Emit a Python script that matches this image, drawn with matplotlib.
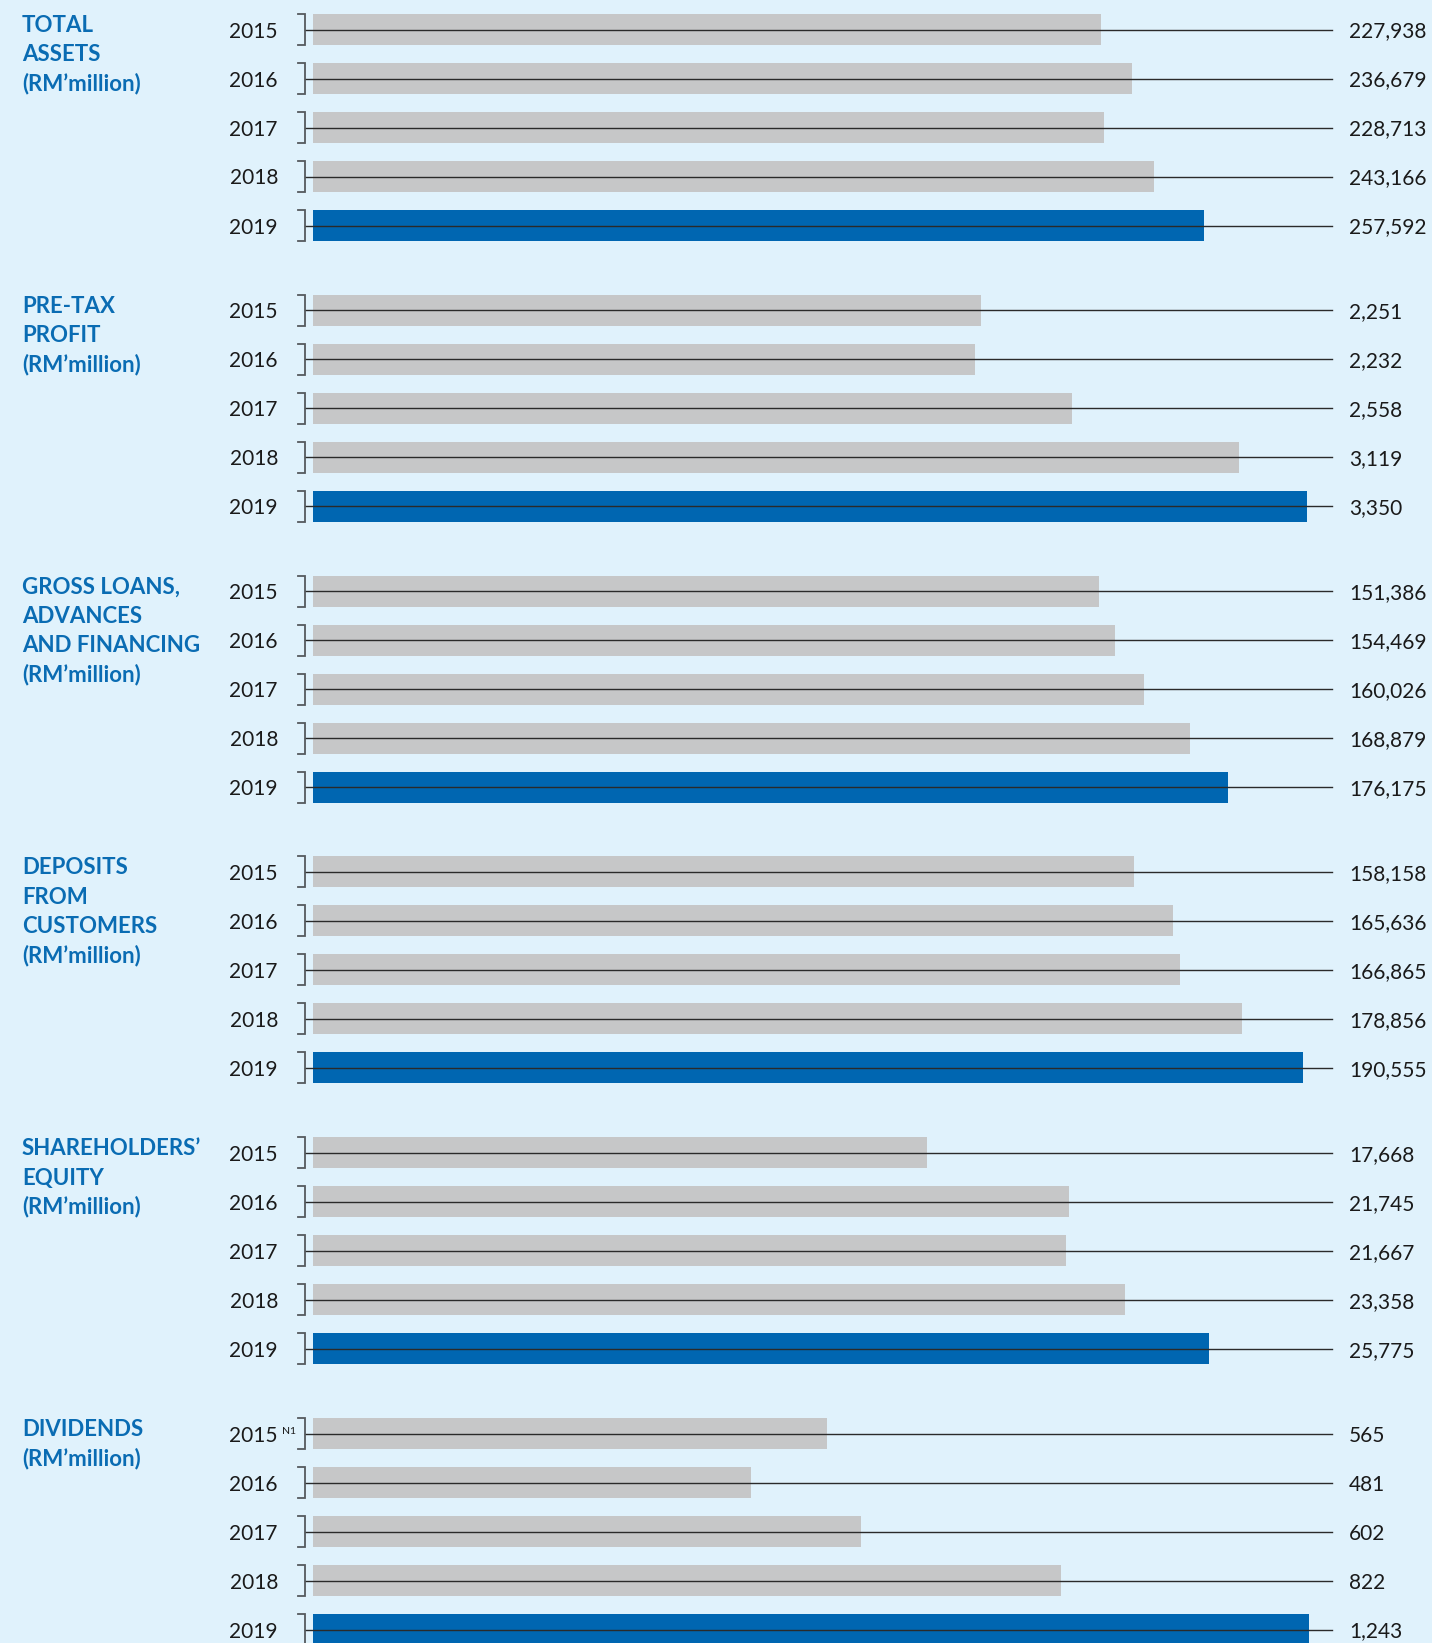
import matplotlib
matplotlib.use("Agg")
import matplotlib.pyplot as plt
from matplotlib import transforms

# ---------------- data ----------------
years = ["2015", "2016", "2017", "2018", "2019"]
total_assets = [227938, 236679, 228713, 243166, 257592]
pretax_profit = [2251, 2232, 2558, 3119, 3350]
gross_loans = [151386, 154469, 160026, 168879, 176175]
deposits = [158158, 165636, 166865, 178856, 190555]
equity = [17668, 21745, 21667, 23358, 25775]
dividends = [565, 481, 602, 822, 1243]

titles = [
    ["TOTAL", "ASSETS", "(RM\u2019million)"],
    ["PRE-TAX", "PROFIT", "(RM\u2019million)"],
    ["GROSS LOANS,", "ADVANCES", "AND FINANCING", "(RM\u2019million)"],
    ["DEPOSITS", "FROM", "CUSTOMERS", "(RM\u2019million)"],
    ["SHAREHOLDERS\u2019", "EQUITY", "(RM\u2019million)"],
    ["DIVIDENDS", "(RM\u2019million)"],
]
series = [total_assets, pretax_profit, gross_loans, deposits, equity, dividends]
# axis maxima (scale of each panel)
axis_max = [288000, 3356, 191760, 191760, 28654, 1095]
notes = [None, None, None, None, None, "N1"]

# ---------------- style ----------------
W, H = 1432, 1643
DPI = 100
BG = "#e0f2fc"
GREY = "#c6c7c8"
BLUE = "#0066b1"
TITLE_C = "#0a6cb3"
TXT = "#1a1a1a"
LINE_C = "#2a2a2a"
BRK_C = "#555a5e"
FONT = ["Lato", "DejaVu Sans"]

plt.rcParams["font.family"] = FONT

fig = plt.figure(figsize=(W / DPI, H / DPI), dpi=DPI, facecolor=BG)

def fx(px):
    return px / W

bar_left = 313
axes_right = 1309
line_start = 305
line_end = 1332
row_h = 49.0
sec_first_center = 29.5
sec_step = 280.8
bar_frac = 31.0 / 49.0

for k, (vals, ttl, amax, note) in enumerate(zip(series, titles, axis_max, notes)):
    top_px = sec_first_center - row_h / 2 + k * sec_step
    n = len(years)
    h_px = n * row_h
    ax = fig.add_axes([fx(bar_left), 1 - (top_px + h_px) / H,
                       fx(axes_right - bar_left), h_px / H])
    ax.set_facecolor("none")
    ax.set_xlim(0, amax)
    ax.set_ylim(n - 0.5, -0.5)
    ax.axis("off")
    ypos = list(range(n))
    colors = [GREY] * (n - 1) + [BLUE]
    ax.barh(ypos, vals, height=bar_frac, color=colors, zorder=1)

    bt = transforms.blended_transform_factory(fig.transFigure, ax.transData)
    half = bar_frac / 2
    for i, (yr, v) in enumerate(zip(years, vals)):
        # horizontal guide line through the bar
        ax.plot([fx(line_start), fx(line_end)], [i, i], transform=bt,
                color=LINE_C, lw=1.0, clip_on=False, zorder=3)
        # bracket
        ax.plot([fx(297.5), fx(304.5), fx(304.5), fx(297.5)],
                [i - half, i - half, i + half, i + half], transform=bt,
                color=BRK_C, lw=1.3, clip_on=False, zorder=3,
                solid_joinstyle="miter")
        tb = transforms.offset_copy(bt, fig=fig, x=0, y=-8, units="dots")
        ax.text(fx(278), i, yr, transform=tb, ha="right", va="baseline",
                fontsize=15, color=TXT)
        ax.text(fx(1349), i, f"{v:,}", transform=tb, ha="left", va="baseline",
                fontsize=15, color=TXT)
        if i == 0 and note:
            tn = transforms.offset_copy(bt, fig=fig, x=0, y=-0.5, units="dots")
            ax.text(fx(282), i, note, transform=tn, ha="left", va="baseline",
                    fontsize=7.5, color=TXT)
    for j, line in enumerate(ttl):
        tt = transforms.offset_copy(bt, fig=fig, x=0, y=-(2.5 + j * 29.3), units="dots")
        ax.text(fx(22), 0, line, transform=tt, ha="left", va="baseline",
                fontsize=16, fontweight="bold", color=TITLE_C)

fig.savefig("out.png", dpi=DPI, facecolor=BG)
